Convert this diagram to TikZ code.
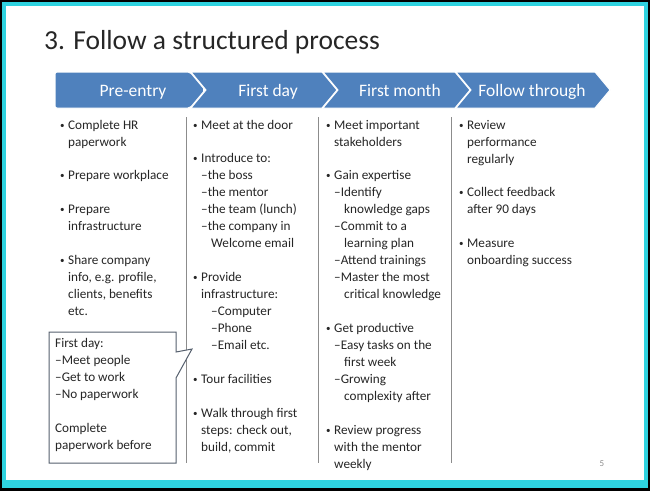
\documentclass[tikz,border=0pt]{standalone}
\usepackage{fontspec}
\setmainfont{Carlito}
\newcommand{\Bu}{\makebox[9pt][l]{\hspace{1pt}\raisebox{0.5pt}{\fontsize{9}{10}\selectfont•}}}
\newcommand{\Co}{\hspace*{9pt}}
\newcommand{\Sc}{\hspace*{19pt}}
\begin{document}
\begin{tikzpicture}[x=1pt,y=-1pt,
  chev/.style={fill=chevblue,draw=white,line width=1pt},
  hdr/.style={text=white,anchor=base,inner sep=0pt,font=\fontsize{17.5}{20}\selectfont},
  ln/.style={anchor=base west,inner sep=0pt,font=\fontsize{13.2}{15}\selectfont,text=black!85},
  divider/.style={draw=black!45,line width=0.6pt}]
\definecolor{chevblue}{HTML}{4F81BD}
\definecolor{frame}{HTML}{2FD3E0}
\definecolor{callline}{HTML}{56606E}
\fill[black] (0,0) rectangle (650,491);
\fill[frame] (2,2) rectangle (648,488);
\fill[white] (6,6) rectangle (644,480);
\useasboundingbox (0,0) rectangle (650,491);
\node[anchor=base west,inner sep=0pt,font=\fontsize{27.5}{30}\selectfont,text=black!85] (title) at (44,49) {3. Follow a structured process};
% chevrons
\draw[chev,rounded corners=2pt] (55,72) -- (190,72) -- (205,90) -- (190,108) -- (55,108) -- cycle;
\draw[chev] (191,72) -- (322,72) -- (337,90) -- (322,108) -- (191,108) -- (206,90) -- cycle;
\draw[chev] (323,72) -- (455,72) -- (470,90) -- (455,108) -- (323,108) -- (338,90) -- cycle;
\draw[chev] (456,72) -- (595,72) -- (610,90) -- (595,108) -- (456,108) -- (471,90) -- cycle;
\node[hdr] (h1) at (133,96) {Pre-entry};
\node[hdr] (h2) at (268,96) {First day};
\node[hdr] (h3) at (400,96) {First month};
\node[hdr] (h4) at (532,96) {Follow through};
% dividers
\draw[divider] (186,117) -- (186,463);
\draw[divider] (318,117) -- (318,463);
\draw[divider] (451,117) -- (451,463);
% column 1
\foreach \y/\t [count=\i] in {129/{\Bu Complete HR},146/{\Co paperwork},179/{\Bu Prepare workplace},213/{\Bu Prepare},230/{\Co infrastructure},264/{\Bu Share company},281/{\Co info, e.g. profile,},298/{\Co clients, benefits},315/{\Co etc.}}
  \node[ln] (a\i) at (59,\y) {\t};
% column 2
\foreach \y/\t [count=\i] in {129/{\Bu Meet at the door},162/{\Bu Introduce to:},179/{\Co –the boss},196/{\Co –the mentor},213/{\Co –the team (lunch)},230/{\Co –the company in},247/{\Sc Welcome email},281/{\Bu Provide},298/{\Co infrastructure:},315/{\Sc –Computer},332/{\Sc –Phone},349/{\Sc –Email etc.},383/{\Bu Tour facilities},417/{\Bu Walk through first},434/{\Co steps: check out,},451/{\Co build, commit}}
  \node[ln] (b\i) at (192,\y) {\t};
% column 3
\foreach \y/\t [count=\i] in {129/{\Bu Meet important},146/{\Co stakeholders},179/{\Bu Gain expertise},196/{\Co –Identify},213/{\Sc knowledge gaps},230/{\Co –Commit to a},247/{\Sc learning plan},264/{\Co –Attend trainings},281/{\Co –Master the most},298/{\Sc critical knowledge},332/{\Bu Get productive},349/{\Co –Easy tasks on the},366/{\Sc first week},383/{\Co –Growing},400/{\Sc complexity after},434/{\Bu Review progress},451/{\Co with the mentor},468/{\Co weekly}}
  \node[ln] (c\i) at (325,\y) {\t};
% column 4
\foreach \y/\t [count=\i] in {129/{\Bu Review},146/{\Co performance},163/{\Co regularly},196/{\Bu Collect feedback},213/{\Co after 90 days},247/{\Bu Measure},264/{\Co onboarding success}}
  \node[ln] (d\i) at (458,\y) {\t};
% callout
\draw[draw=callline,line width=1pt,fill=white] (49,332) -- (176,332) -- (176,352) -- (192,349) -- (176,378) -- (176,463) -- (49,463) -- cycle;
\foreach \y/\t [count=\i] in {347/{First day:},364/{–Meet people},381/{–Get to work},398/{–No paperwork},432/{Complete},449/{paperwork before}}
  \node[ln] (e\i) at (55,\y) {\t};
\node[anchor=base,inner sep=0pt,font=\fontsize{9}{10}\selectfont,text=black!45] (pg) at (602,466) {5};
\end{tikzpicture}
\end{document}
